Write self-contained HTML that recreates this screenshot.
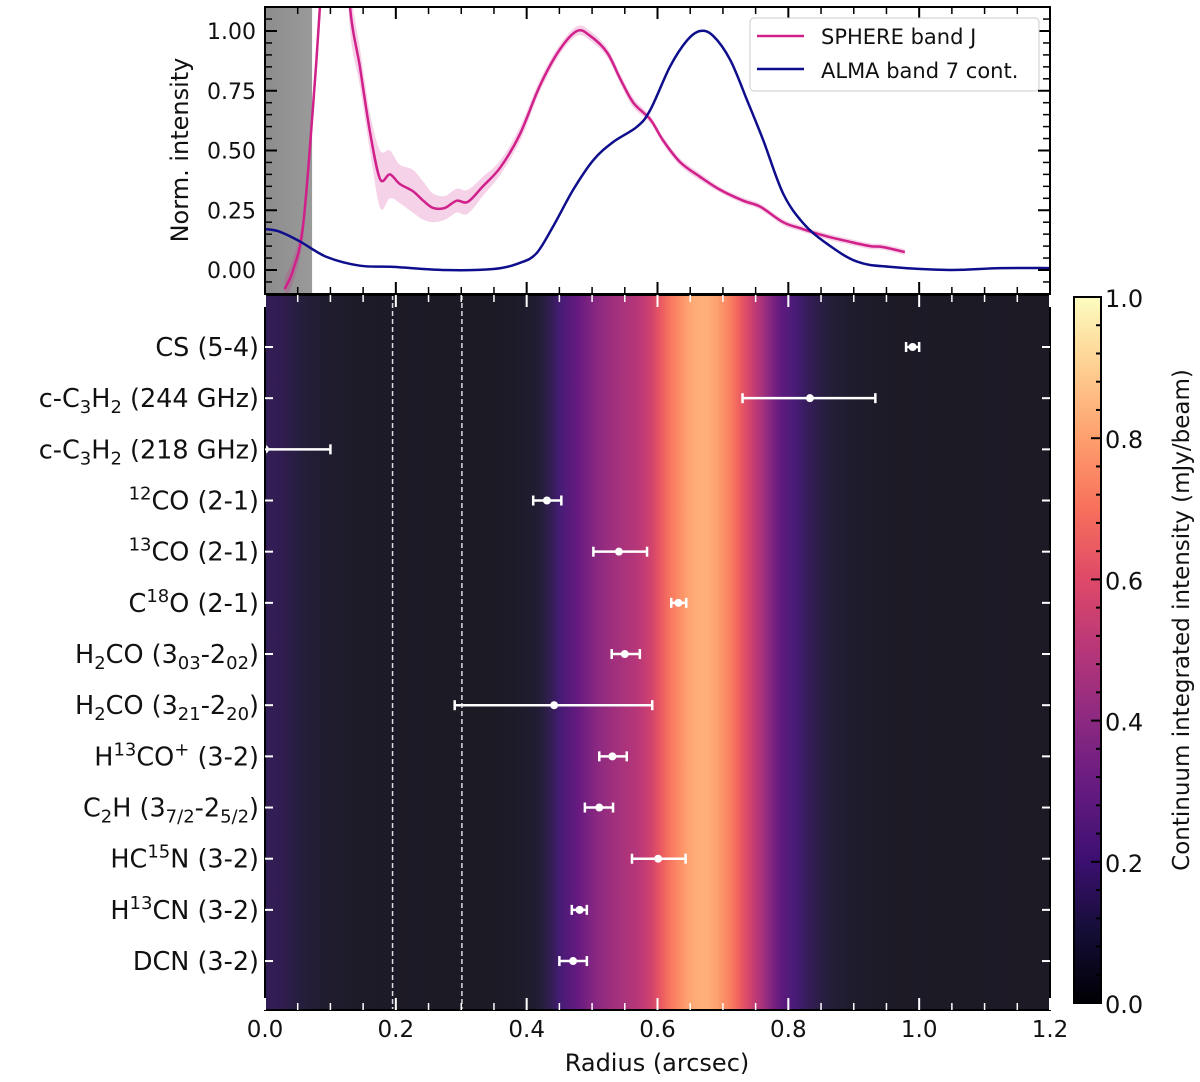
<!DOCTYPE html>
<html><head><meta charset="utf-8">
<style>
html,body{margin:0;padding:0;background:#fff;}
svg{display:block;font-family:"DejaVu Sans","Liberation Sans",sans-serif;}
</style></head>
<body>
<svg id="chart" width="1200" height="1082" viewBox="0 0 1200 1082" xmlns="http://www.w3.org/2000/svg">
<defs>
<linearGradient id="bgGrad" x1="0" x2="1" y1="0" y2="0"></linearGradient>
<linearGradient id="cbGrad" x1="0" x2="0" y1="1" y2="0"></linearGradient>
<linearGradient id="greyGrad" x1="0" x2="1" y1="0" y2="0">
<stop offset="0" stop-color="#8c8c8c"/><stop offset="1" stop-color="#9a9a9a"/></linearGradient>
<clipPath id="topClip"><rect x="265" y="7" width="785" height="287"/></clipPath>
<clipPath id="botClip"><rect x="265" y="295" width="785" height="715"/></clipPath>
</defs>
<g id="topPanel" clip-path="url(#topClip)"></g>
<g id="botPanel" clip-path="url(#botClip)"></g>
<g id="axesLayer"></g>
</svg>
<script>
// ---- data ----
const sphereR = [0.03,0.043,0.058,0.073,0.084,0.095,0.12,0.13,0.145,0.161,0.176,0.191,0.206,0.226,0.242,0.257,0.275,0.293,0.31,0.333,0.36,0.39,0.42,0.45,0.477,0.497,0.523,0.543,0.563,0.589,0.609,0.635,0.665,0.696,0.731,0.757,0.792,0.818,0.853,0.894,0.925,0.945,0.978];
const sphereV = [-0.08,0.0,0.18,0.67,1.10,1.6,1.6,1.10,0.85,0.57,0.38,0.40,0.36,0.33,0.29,0.26,0.26,0.29,0.285,0.35,0.43,0.57,0.77,0.92,1.0,0.98,0.91,0.80,0.70,0.63,0.54,0.45,0.39,0.335,0.29,0.265,0.20,0.175,0.145,0.118,0.10,0.096,0.075];
const sphereErr = [0.05,0.05,0.05,0.06,0.08,0.1,0.1,0.1,0.08,0.08,0.12,0.1,0.08,0.09,0.08,0.06,0.05,0.05,0.05,0.04,0.03,0.03,0.025,0.02,0.02,0.02,0.02,0.02,0.02,0.015,0.015,0.015,0.015,0.012,0.012,0.012,0.012,0.012,0.012,0.012,0.012,0.012,0.012];
const almaR = [0.0,0.005,0.023,0.053,0.094,0.145,0.196,0.272,0.349,0.39,0.415,0.44,0.471,0.502,0.532,0.569,0.589,0.619,0.645,0.665,0.685,0.711,0.737,0.762,0.792,0.823,0.859,0.905,0.956,1.047,1.124,1.2];
const almaV = [0.17,0.17,0.16,0.12,0.055,0.018,0.013,0.0,0.004,0.03,0.07,0.18,0.335,0.46,0.535,0.6,0.67,0.85,0.96,1.0,0.98,0.88,0.71,0.54,0.32,0.195,0.11,0.035,0.013,0.0,0.008,0.008];
const molecules = ["CS (5-4)","c-C3H2 (244 GHz)","c-C3H2 (218 GHz)","12CO (2-1)","13CO (2-1)","C18O (2-1)","H2CO (303-202)","H2CO (321-220)","H13CO+ (3-2)","C2H (37/2-25/2)","HC15N (3-2)","H13CN (3-2)","DCN (3-2)"];
const radius = [0.99,0.833,0.0,0.431,0.541,0.632,0.550,0.442,0.531,0.511,0.601,0.481,0.471];
const radLo  = [0.98,0.73,0.0,0.410,0.502,0.621,0.530,0.290,0.511,0.489,0.561,0.469,0.450];
const radHi  = [1.0,0.933,0.10,0.453,0.584,0.644,0.573,0.592,0.553,0.532,0.643,0.492,0.492];
const xTicks = [0.0,0.2,0.4,0.6,0.8,1.0,1.2];
const yTicksTop = [0.0,0.25,0.5,0.75,1.0];
const cbTicks = [0.0,0.2,0.4,0.6,0.8,1.0];

// ---- scales ----
const X0=265,X1=1050;
const sx = r => X0 + (r-0)/(1.2)*(X1-X0);
const syT = v => 270 - v*239;
const syB = i => 347 + i*51.17;
const cbY = v => 1003 - v*706;
const NS="http://www.w3.org/2000/svg";
function mk(tag,attrs,parent){const e=document.createElementNS(NS,tag);for(const k in attrs)e.setAttribute(k,attrs[k]);parent.appendChild(e);return e;}
const topG=document.getElementById('topPanel'),botG=document.getElementById('botPanel'),axesG=document.getElementById('axesLayer');

const magma=[[0,0,0,4],[0.1,20,14,54],[0.2,59,15,112],[0.3,100,26,128],[0.4,140,41,129],[0.5,183,55,121],[0.6,222,73,104],[0.7,247,112,92],[0.8,254,159,109],[0.9,254,207,146],[1,252,253,191]];
const magmaBg=[[0,26,25,31],[0.1,36,30,58],[0.2,70,28,118],[0.3,100,26,128],[0.4,140,41,129],[0.5,183,55,121],[0.6,222,73,104],[0.7,247,112,92],[0.8,254,159,109],[0.9,254,207,146],[1,252,253,191]];
function mcol(v,m){m=m||magma;v=Math.max(0,Math.min(1,v));for(let i=1;i<m.length;i++){if(v<=m[i][0]){const a=m[i-1],b=m[i],t=(v-a[0])/(b[0]-a[0]);return `rgb(${Math.round(a[1]+t*(b[1]-a[1]))},${Math.round(a[2]+t*(b[2]-a[2]))},${Math.round(a[3]+t*(b[3]-a[3]))})`;}}return 'rgb(252,253,191)';}
function interp(xs,ys,x){if(x<=xs[0])return ys[0];for(let i=1;i<xs.length;i++){if(x<=xs[i]){const t=(x-xs[i-1])/(xs[i]-xs[i-1]);return ys[i-1]+t*(ys[i]-ys[i-1]);}}return ys[ys.length-1];}
function smooth(pts){let d='M'+pts[0][0].toFixed(1)+','+pts[0][1].toFixed(1);for(let i=0;i<pts.length-1;i++){const p0=pts[i-1]||pts[i],p1=pts[i],p2=pts[i+1],p3=pts[i+2]||p2;const c1=[p1[0]+(p2[0]-p0[0])/6,p1[1]+(p2[1]-p0[1])/6],c2=[p2[0]-(p3[0]-p1[0])/6,p2[1]-(p3[1]-p1[1])/6];d+='C'+c1.map(n=>n.toFixed(1))+' '+c2.map(n=>n.toFixed(1))+' '+p2[0].toFixed(1)+','+p2[1].toFixed(1);}return d;}

const bg=document.getElementById('bgGrad');
for(let k=0;k<=120;k++){const r=k/100;const a=Math.max(0,interp(almaR,almaV,r));const v=0.02+0.82*Math.pow(a,1.05);mk('stop',{offset:(k/120).toFixed(4),'stop-color':mcol(v,magmaBg)},bg);}
const cbg=document.getElementById('cbGrad');
for(let k=0;k<=20;k++){mk('stop',{offset:k/20,'stop-color':mcol(k/20)},cbg);}

// ---- top panel ----
const sh=mk('rect',{x:265,y:7,width:sx(0.072)-265,height:287,fill:'url(#greyGrad)'},topG);


const upPts=sphereR.map((r,i)=>[sx(r),syT(sphereV[i]+sphereErr[i])]);
const loPts=sphereR.map((r,i)=>[sx(r),syT(sphereV[i]-sphereErr[i])]).reverse();
const bandD=smooth(upPts)+'L'+smooth(loPts).slice(1)+'Z';
const bnd=mk('path',{d:bandD,fill:'#d0208a','fill-opacity':0.2,stroke:'none'},topG);


const sp=mk('path',{d:smooth(sphereR.map((r,i)=>[sx(r),syT(sphereV[i])])),fill:'none',stroke:'#d0208a','stroke-width':2.5,'stroke-linejoin':'round'},topG);


const al=mk('path',{d:smooth(almaR.map((r,i)=>[sx(r),syT(almaV[i])])),fill:'none',stroke:'#0e0e8c','stroke-width':2.5,'stroke-linejoin':'round'},topG);



// ---- bottom panel ----
const bgr=mk('rect',{x:265,y:295,width:785,height:715,fill:'url(#bgGrad)'},botG);


[0.195,0.301].forEach(r=>{const l=mk('line',{x1:sx(r),x2:sx(r),y1:295,y2:1010,stroke:'#ddd','stroke-width':1.5,'stroke-dasharray':'5,3'},botG);

});
molecules.forEach((m,i)=>{const y=syB(i);const g=mk('g',{},botG);


mk('line',{x1:sx(radLo[i]),x2:sx(radHi[i]),y1:y,y2:y,stroke:'#fff','stroke-width':2.5},g);
[radLo[i],radHi[i]].forEach(r=>mk('line',{x1:sx(r),x2:sx(r),y1:y-5,y2:y+5,stroke:'#fff','stroke-width':2.5},g));
mk('circle',{cx:sx(radius[i]),cy:y,r:4,fill:'#fff'},g);});

// ---- axes ----
function frame(x,y,w,h,name){const r=mk('rect',{x,y,width:w,height:h,fill:'none',stroke:'#000','stroke-width':2},axesG);}
frame(265,7,785,287,'top-axes-frame');
frame(265,295,785,715,'bottom-axes-frame');
for(let k=0;k<=24;k++){const r=k*0.05,x=sx(r),maj=k%4==0;
mk('line',{x1:x,x2:x,y1:294,y2:294-(maj?12:7),stroke:'#000','stroke-width':maj?2:1.5},axesG);
mk('line',{x1:x,x2:x,y1:7,y2:7+(maj?12:7),stroke:'#000','stroke-width':maj?2:1.5},axesG);
mk('line',{x1:x,x2:x,y1:1010,y2:1010-(maj?12:7),stroke:'#fff','stroke-width':maj?2:1.5},axesG);
mk('line',{x1:x,x2:x,y1:295,y2:295+(maj?12:7),stroke:'#fff','stroke-width':maj?2:1.5},axesG);}
for(let k=-2;k<=22;k++){const v=k*0.05,y=syT(v);if(y<7||y>294)continue;const maj=k%5==0;
mk('line',{x1:265,x2:265+(maj?12:7),y1:y,y2:y,stroke:'#000','stroke-width':maj?2:1.5},axesG);
mk('line',{x1:1050,x2:1050-(maj?12:7),y1:y,y2:y,stroke:'#000','stroke-width':maj?2:1.5},axesG);}
yTicksTop.forEach(v=>{const t=mk('text',{x:256,y:syT(v)+8,'text-anchor':'end','font-size':22,fill:'#111'},axesG);t.textContent=v.toFixed(2);

});
const yl=mk('text',{x:0,y:0,transform:'translate(188,150) rotate(-90)','text-anchor':'middle','font-size':24,fill:'#111'},axesG);yl.textContent='Norm. intensity';


xTicks.forEach(v=>{const t=mk('text',{x:sx(v),y:1037,'text-anchor':'middle','font-size':23,fill:'#111'},axesG);t.textContent=v.toFixed(1);

});
const xl=mk('text',{x:657,y:1071,'text-anchor':'middle','font-size':24,fill:'#111'},axesG);xl.textContent='Radius (arcsec)';


const labHTML=["CS (5-4)","c-C<tspan font-size='18' dy='6'>3</tspan><tspan dy='-6'>H</tspan><tspan font-size='18' dy='6'>2</tspan><tspan dy='-6'> (244 GHz)</tspan>","c-C<tspan font-size='18' dy='6'>3</tspan><tspan dy='-6'>H</tspan><tspan font-size='18' dy='6'>2</tspan><tspan dy='-6'> (218 GHz)</tspan>","<tspan font-size='18' dy='-10'>12</tspan><tspan dy='10'>CO (2-1)</tspan>","<tspan font-size='18' dy='-10'>13</tspan><tspan dy='10'>CO (2-1)</tspan>","C<tspan font-size='18' dy='-10'>18</tspan><tspan dy='10'>O (2-1)</tspan>","H<tspan font-size='18' dy='6'>2</tspan><tspan dy='-6'>CO (3</tspan><tspan font-size='18' dy='6'>03</tspan><tspan dy='-6'>-2</tspan><tspan font-size='18' dy='6'>02</tspan><tspan dy='-6'>)</tspan>","H<tspan font-size='18' dy='6'>2</tspan><tspan dy='-6'>CO (3</tspan><tspan font-size='18' dy='6'>21</tspan><tspan dy='-6'>-2</tspan><tspan font-size='18' dy='6'>20</tspan><tspan dy='-6'>)</tspan>","H<tspan font-size='18' dy='-10'>13</tspan><tspan dy='10'>CO</tspan><tspan font-size='18' dy='-10'>+</tspan><tspan dy='10'> (3-2)</tspan>","C<tspan font-size='18' dy='6'>2</tspan><tspan dy='-6'>H (3</tspan><tspan font-size='18' dy='6'>7/2</tspan><tspan dy='-6'>-2</tspan><tspan font-size='18' dy='6'>5/2</tspan><tspan dy='-6'>)</tspan>","HC<tspan font-size='18' dy='-10'>15</tspan><tspan dy='10'>N (3-2)</tspan>","H<tspan font-size='18' dy='-10'>13</tspan><tspan dy='10'>CN (3-2)</tspan>","DCN (3-2)"];
molecules.forEach((m,i)=>{const y=syB(i);
mk('line',{x1:265,x2:273,y1:y,y2:y,stroke:'#fff','stroke-width':2},axesG);
mk('line',{x1:1050,x2:1042,y1:y,y2:y,stroke:'#fff','stroke-width':2},axesG);
const t=mk('text',{x:259,y:y+9,'text-anchor':'end','font-size':25.5,fill:'#111'},axesG);t.innerHTML=labHTML[i];

});
const lg=mk('g',{},axesG);


mk('rect',{x:750,y:18,width:289,height:73,rx:4,fill:'#fff',stroke:'#ccc','stroke-width':1},lg);
mk('line',{x1:757,x2:804,y1:36,y2:36,stroke:'#d0208a','stroke-width':2.5},lg);
mk('line',{x1:757,x2:804,y1:69,y2:69,stroke:'#0e0e8c','stroke-width':2.5},lg);
const l1=mk('text',{x:821,y:44,'font-size':21,fill:'#111'},lg);l1.textContent='SPHERE band J';


const l2=mk('text',{x:821,y:78,'font-size':21,fill:'#111'},lg);l2.textContent='ALMA band 7 cont.';


const cb=mk('rect',{x:1074,y:297,width:27,height:706,fill:'url(#cbGrad)',stroke:'#000','stroke-width':2},axesG);


for(let k=0;k<=25;k++){const v=k*0.04,y=cbY(v),maj=k%5==0;mk('line',{x1:1101,x2:1101-(maj?10:5),y1:y,y2:y,stroke:'#000','stroke-width':2},axesG);}
cbTicks.forEach(v=>{const t=mk('text',{x:1105,y:cbY(v)+10,'font-size':24,fill:'#111'},axesG);t.textContent=v.toFixed(1);

});
const cl=mk('text',{x:0,y:0,transform:'translate(1189,620) rotate(-90)','text-anchor':'middle','font-size':23,fill:'#111'},axesG);cl.textContent='Continuum integrated intensity (mJy/beam)';


</script>
</body></html>
